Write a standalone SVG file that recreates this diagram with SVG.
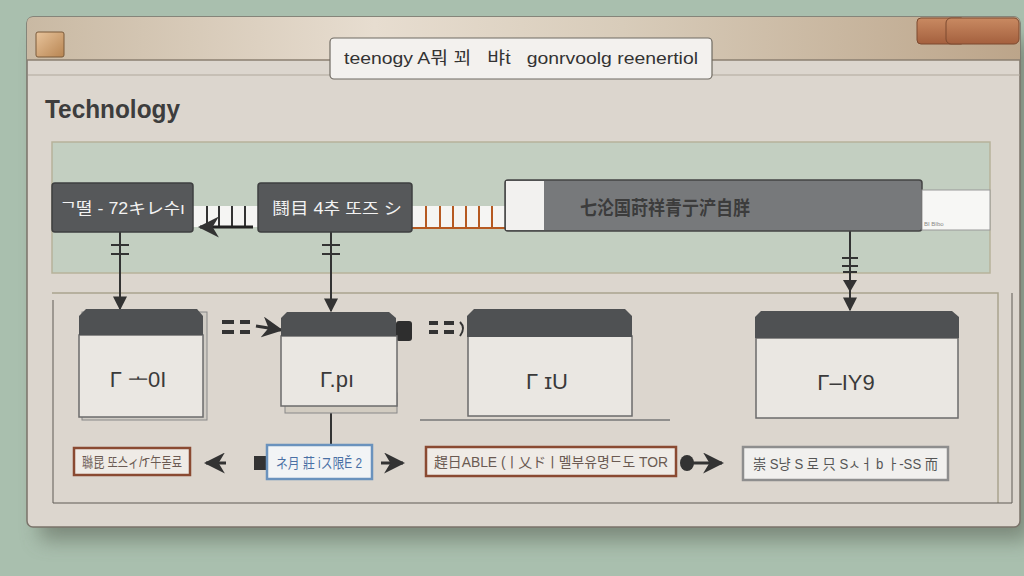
<svg xmlns="http://www.w3.org/2000/svg" width="1024" height="576" viewBox="0 0 1024 576">
<defs>
<linearGradient id="titleG" x1="0" y1="0" x2="1" y2="0">
<stop offset="0" stop-color="#c9b9a3"/><stop offset="0.35" stop-color="#e7ddd0"/><stop offset="0.6" stop-color="#d8ccba"/><stop offset="1" stop-color="#bca58a"/>
</linearGradient>
<linearGradient id="brownG" x1="0" y1="0" x2="0" y2="1">
<stop offset="0" stop-color="#c98a62"/><stop offset="1" stop-color="#a4603e"/>
</linearGradient>
<linearGradient id="iconG" x1="0" y1="0" x2="1" y2="1">
<stop offset="0" stop-color="#e8c49c"/><stop offset="1" stop-color="#b88552"/>
</linearGradient>
<filter id="shadow" x="-10%" y="-10%" width="120%" height="130%">
<feGaussianBlur stdDeviation="10"/>
</filter>
<marker id="arrDown" viewBox="0 0 10 10" refX="9" refY="5" markerWidth="7" markerHeight="7" orient="auto">
<path d="M0,0 L10,5 L0,10 Z" fill="#333"/>
</marker>
<marker id="arr" viewBox="0 0 10 10" refX="9" refY="5" markerWidth="7" markerHeight="7" orient="auto-start-reverse">
<path d="M0,0 L10,5 L0,10 L3,5 Z" fill="#333"/>
</marker>
<style>
.dark{fill:#56585a;stroke:#3e3f40;stroke-width:1.5}
.card{fill:#eae7e2;stroke:#6b6b6b;stroke-width:1.5}
.hdr{fill:#4f5153}
.wt{font-family:"Liberation Sans","Noto Sans CJK KR",sans-serif;fill:#f2f2f2;font-size:16px}
.ct{font-family:"Liberation Sans",sans-serif;fill:#3a3a3a;font-size:22px}
.lt{font-family:"Liberation Sans","Noto Sans CJK SC",sans-serif;font-size:14px;fill:#6a5a52}
.ln{stroke:#333;stroke-width:2;fill:none}
</style>
</defs>
<rect width="1024" height="576" fill="#a9bfae"/>
<rect x="40" y="40" width="990" height="500" fill="#5d6658" opacity="0.6" filter="url(#shadow)"/>
<g id="window">
<rect x="27" y="17" width="993" height="510" rx="6" fill="#dcd6ce" stroke="#7a736a" stroke-width="1.5"/>
<path d="M27,60 V23 Q27,17 33,17 H1014 Q1020,17 1020,23 V60 Z" fill="url(#titleG)"/>
<line x1="27" y1="60" x2="1020" y2="60" stroke="#8b7f70" stroke-width="1.5"/>
<line x1="28" y1="75" x2="330" y2="75" stroke="#b0a89c" stroke-width="1"/>
<line x1="712" y1="75" x2="1020" y2="75" stroke="#b0a89c" stroke-width="1"/>
<rect x="36" y="32" width="28" height="25" rx="2" fill="url(#iconG)" stroke="#7a5a3a" stroke-width="1"/>
<rect x="917" y="18" width="48" height="26" rx="4" fill="url(#brownG)" stroke="#7c4a30" stroke-width="1"/>
<rect x="946" y="18" width="73" height="26" rx="5" fill="url(#brownG)" stroke="#7c4a30" stroke-width="1"/>
<rect x="330" y="38" width="382" height="41" rx="4" fill="#f3f1ee" stroke="#6f6a62" stroke-width="1.2"/>
<text x="344" y="64" textLength="354" lengthAdjust="spacingAndGlyphs" font-family="Liberation Sans,Noto Sans CJK KR,sans-serif" font-size="17" fill="#333">teenogy A뭐 꾀&#160;&#160; 뱌ṫ&#160;&#160; gonrvoolg reenertiol</text>
<text x="45" y="118" textLength="135" lengthAdjust="spacingAndGlyphs" font-family="Liberation Sans,sans-serif" font-size="25" font-weight="bold" fill="#3d3d3d">Technology</text>
<rect x="52" y="142" width="938" height="131" fill="#c3cfc1" stroke="#b7b39a" stroke-width="1.5"/>
<path d="M52,293 H998 V503" fill="none" stroke="#a9a48f" stroke-width="1.5"/>
<path d="M53,300 V503 H1012 V293" fill="none" stroke="#5e5a54" stroke-width="1"/>
</g>
<g id="connectors">
<rect x="193" y="206" width="66" height="21" fill="#f5f5f3"/>
<g stroke="#333" stroke-width="2"><line x1="207" y1="206" x2="207" y2="227"/><line x1="219" y1="206" x2="219" y2="227"/><line x1="232" y1="206" x2="232" y2="227"/><line x1="245" y1="206" x2="245" y2="227"/></g>
<line x1="253" y1="227" x2="200" y2="227" stroke="#222" stroke-width="3" marker-end="url(#arr)"/>
<rect x="412" y="206" width="95" height="22" fill="#f5f5f3"/>
<g stroke="#b65a22" stroke-width="2"><line x1="426" y1="206" x2="426" y2="228"/><line x1="440" y1="206" x2="440" y2="228"/><line x1="453" y1="206" x2="453" y2="228"/><line x1="466" y1="206" x2="466" y2="228"/><line x1="479" y1="206" x2="479" y2="228"/><line x1="492" y1="206" x2="492" y2="228"/><line x1="412" y1="228" x2="506" y2="228"/></g>
<line x1="120" y1="232" x2="120" y2="309" class="ln" marker-end="url(#arrDown)"/>
<g stroke="#333" stroke-width="2"><line x1="111" y1="245" x2="129" y2="245"/><line x1="111" y1="254" x2="129" y2="254"/></g>
<line x1="331" y1="232" x2="331" y2="311" class="ln" marker-end="url(#arrDown)"/>
<g stroke="#333" stroke-width="2"><line x1="322" y1="245" x2="340" y2="245"/><line x1="322" y1="254" x2="340" y2="254"/></g>
<line x1="850" y1="231" x2="850" y2="310" class="ln" marker-end="url(#arrDown)"/>
<g stroke="#333" stroke-width="2"><line x1="842" y1="258" x2="858" y2="258"/><line x1="842" y1="266" x2="858" y2="266"/><line x1="843" y1="272" x2="857" y2="272"/></g>
<path d="M843,280 L857,280 L850,292 Z" fill="#333"/>
<g stroke="#333" stroke-width="4"><line x1="222" y1="322" x2="234" y2="322"/><line x1="240" y1="322" x2="250" y2="322"/><line x1="222" y1="332" x2="234" y2="332"/><line x1="240" y1="332" x2="250" y2="332"/></g>
<path d="M256,326 L281,330" stroke="#333" stroke-width="3" marker-end="url(#arr)"/>
<g stroke="#333" stroke-width="4"><line x1="429" y1="323" x2="438" y2="323"/><line x1="444" y1="323" x2="454" y2="323"/><line x1="429" y1="332" x2="438" y2="332"/><line x1="444" y1="332" x2="454" y2="332"/></g>
<path d="M460,322 Q466,328 460,336" stroke="#333" stroke-width="2" fill="none"/>
<rect x="396" y="321" width="16" height="20" rx="3" fill="#2e2e2e"/>
<line x1="331" y1="406" x2="331" y2="444" class="ln"/>
<line x1="420" y1="420" x2="670" y2="420" stroke="#777" stroke-width="1.5"/>
<line x1="226" y1="463" x2="206" y2="463" stroke="#333" stroke-width="3" marker-end="url(#arr)"/>
<rect x="254" y="456" width="14" height="14" fill="#333"/>
<line x1="381" y1="463" x2="403" y2="463" stroke="#333" stroke-width="3" marker-end="url(#arr)"/>
<ellipse cx="687" cy="463" rx="7" ry="8" fill="#333"/>
<line x1="690" y1="463" x2="722" y2="463" stroke="#333" stroke-width="3" marker-end="url(#arr)"/>
</g>
<g id="node-top1">
<rect x="52" y="183" width="141" height="49" rx="3" class="dark"/>
<text x="60" y="214" textLength="125" lengthAdjust="spacingAndGlyphs" class="wt">ᄀ뗠 ‐ 72キレ수ı</text>
</g>
<g id="node-top2">
<rect x="258" y="183" width="154" height="49" rx="3" class="dark"/>
<text x="272" y="214" textLength="130" lengthAdjust="spacingAndGlyphs" class="wt">鬪目 4추 또즈 シ</text>
</g>
<g id="node-top3">
<rect x="505" y="180" width="417" height="51" rx="3" fill="#77797b" stroke="#444" stroke-width="1.5"/>
<rect x="506" y="181" width="38" height="49" fill="#f2f1ef"/>
<rect x="922" y="190" width="68" height="40" fill="#f7f7f5" stroke="#999" stroke-width="1"/>
<text x="580" y="215" textLength="170" lengthAdjust="spacingAndGlyphs" font-family="Liberation Sans,Noto Sans CJK SC,sans-serif" font-size="19" font-weight="bold" fill="#3c3c3c">七沦国莳祥青亍浐自羘</text>
<text x="924" y="226" font-family="Liberation Sans,sans-serif" font-size="6" fill="#888">BI BIbo</text>
</g>
<g id="card1">
<rect x="82" y="312" width="125" height="108" fill="#cfcbc4" stroke="#888"/>
<rect x="79" y="335" width="124" height="82" class="card"/>
<path d="M79,335 V316 L86,309 H197 L203,316 V335 Z" class="hdr"/>
<text x="138" y="387" text-anchor="middle" class="ct">Γ ᅩ0I</text>
</g>
<g id="card2">
<rect x="285" y="393" width="112" height="20" fill="#d2ccc1" stroke="#888"/>
<rect x="281" y="336" width="116" height="70" class="card"/>
<path d="M281,336 V318 L287,312 H389 L396,318 V336 Z" class="hdr"/>
<text x="337" y="387" text-anchor="middle" class="ct">Γ.pı</text>
</g>
<g id="card3">
<rect x="468" y="336" width="164" height="80" class="card"/>
<path d="M467,337 V316 L474,309 H625 L632,316 V337 Z" class="hdr"/>
<text x="547" y="389" text-anchor="middle" class="ct">Γ ɪU</text>
</g>
<g id="card4">
<rect x="756" y="338" width="202" height="80" class="card"/>
<path d="M755,338 V317 L761,311 H952 L959,317 V338 Z" class="hdr"/>
<text x="846" y="390" text-anchor="middle" class="ct">Γ–IY9</text>
</g>
<g id="label1">
<rect x="74" y="448" width="116" height="27" fill="#efebe6" stroke="#8a4a32" stroke-width="2.5"/>
<text x="82" y="467" textLength="100" lengthAdjust="spacingAndGlyphs" class="lt">䏈昆 또스ィ/ፕ午돋료</text>
</g>
<g id="label2">
<rect x="267" y="445" width="105" height="34" fill="#f2f4f6" stroke="#6a92bd" stroke-width="2.5"/>
<text x="276" y="468" textLength="86" lengthAdjust="spacingAndGlyphs" class="lt" style="fill:#4a70a5">ネ月 莊 iス限Ě 2</text>
</g>
<g id="label3">
<rect x="426" y="447" width="250" height="29" fill="#efebe6" stroke="#8a4a32" stroke-width="2.5"/>
<text x="434" y="467" textLength="234" lengthAdjust="spacingAndGlyphs" class="lt">趕日ABLE (ㅣ乂ドㅣ멜부유명ᄃ도 TOR</text>
</g>
<g id="label4">
<rect x="743" y="447" width="205" height="33" fill="#f1f0ee" stroke="#8e8e8e" stroke-width="2.5"/>
<text x="753" y="469" textLength="185" lengthAdjust="spacingAndGlyphs" class="lt" style="fill:#555">崇 S냥 S 로 只 Sㅅㅓ b ㅏ-SS 而</text>
</g>
</svg>
